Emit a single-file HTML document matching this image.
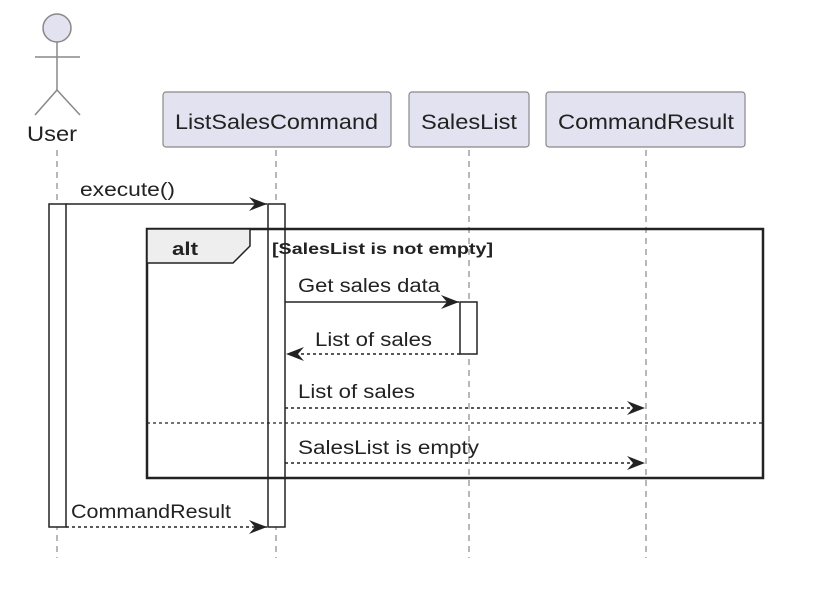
<!DOCTYPE html>
<html><head><style>body{margin:0;background:#fff}svg{display:block}text{font-family:"Liberation Sans",sans-serif;fill:#222}</style></head>
<body>
<svg width="814" height="596" viewBox="0 0 814 596" xmlns="http://www.w3.org/2000/svg">
<defs>
<marker id="a" markerWidth="20" markerHeight="16" refX="18" refY="8" orient="auto" markerUnits="userSpaceOnUse"><path d="M0,1 L18,8 L0,15 L6,8 Z" fill="#222"/></marker>
</defs>
<g stroke="#888" stroke-width="1.2" stroke-dasharray="6,5">
<line x1="57" y1="150" x2="57" y2="558"/>
<line x1="276" y1="150" x2="276" y2="558"/>
<line x1="469" y1="150" x2="469" y2="558"/>
<line x1="646" y1="150" x2="646" y2="558"/>
</g>
<circle cx="57" cy="28" r="14" fill="#e2e2f0" stroke="#888" stroke-width="1.5"/>
<g stroke="#888" stroke-width="1.5" fill="none">
<line x1="57" y1="42" x2="57" y2="90"/><line x1="35" y1="57" x2="80" y2="57"/>
<path d="M35,115 L57,90 L80,115"/>
</g>
<text x="27" y="141" font-size="21" textLength="50" lengthAdjust="spacingAndGlyphs">User</text>
<g fill="#e2e2f0" stroke="#888" stroke-width="1.2">
<rect x="163" y="92" width="228" height="55" rx="3"/>
<rect x="409" y="92" width="120" height="55" rx="3"/>
<rect x="546" y="92" width="199" height="55" rx="3"/>
</g>
<g font-size="21">
<text x="175" y="129" textLength="203" lengthAdjust="spacingAndGlyphs">ListSalesCommand</text>
<text x="421" y="129" textLength="96" lengthAdjust="spacingAndGlyphs">SalesList</text>
<text x="558" y="129" textLength="176" lengthAdjust="spacingAndGlyphs">CommandResult</text>
</g>
<g fill="#fff" stroke="#222" stroke-width="1.5">
<rect x="49" y="204" width="17" height="323"/>
<rect x="268" y="204" width="17" height="323"/>
</g>
<rect x="147" y="229" width="616" height="249" fill="none" stroke="#222" stroke-width="2.5"/>
<path d="M147,229 L250,229 L250,246 L233,263 L147,263 Z" fill="#eee" stroke="#222" stroke-width="1.5"/>
<text x="172" y="255" font-size="18" font-weight="bold" textLength="26" lengthAdjust="spacingAndGlyphs">alt</text>
<text x="272" y="254" font-size="16" font-weight="bold" textLength="221" lengthAdjust="spacingAndGlyphs">[SalesList is not empty]</text>
<line x1="147" y1="423" x2="763" y2="423" stroke="#222" stroke-width="1.2" stroke-dasharray="3,3"/>
<rect x="460" y="302" width="17" height="52" fill="#fff" stroke="#222" stroke-width="1.5"/>
<g stroke="#222" stroke-width="1.5" fill="none">
<line x1="66" y1="204" x2="267" y2="204" marker-end="url(#a)"/>
<line x1="285" y1="302" x2="459" y2="302" marker-end="url(#a)"/>
<line x1="460" y1="354" x2="286" y2="354" stroke-dasharray="3,3" marker-end="url(#a)"/>
<line x1="285" y1="408" x2="645" y2="408" stroke-dasharray="3,3" marker-end="url(#a)"/>
<line x1="285" y1="463" x2="645" y2="463" stroke-dasharray="3,3" marker-end="url(#a)"/>
<line x1="66" y1="527" x2="267" y2="527" stroke-dasharray="3,3" marker-end="url(#a)"/>
</g>
<g font-size="19">
<text x="80" y="196" textLength="95" lengthAdjust="spacingAndGlyphs">execute()</text>
<text x="298" y="292" textLength="142" lengthAdjust="spacingAndGlyphs">Get sales data</text>
<text x="315" y="346" textLength="117" lengthAdjust="spacingAndGlyphs">List of sales</text>
<text x="298" y="398" textLength="117" lengthAdjust="spacingAndGlyphs">List of sales</text>
<text x="298" y="454" textLength="181" lengthAdjust="spacingAndGlyphs">SalesList is empty</text>
<text x="71" y="518" textLength="160" lengthAdjust="spacingAndGlyphs">CommandResult</text>
</g>
</svg>
</body></html>
